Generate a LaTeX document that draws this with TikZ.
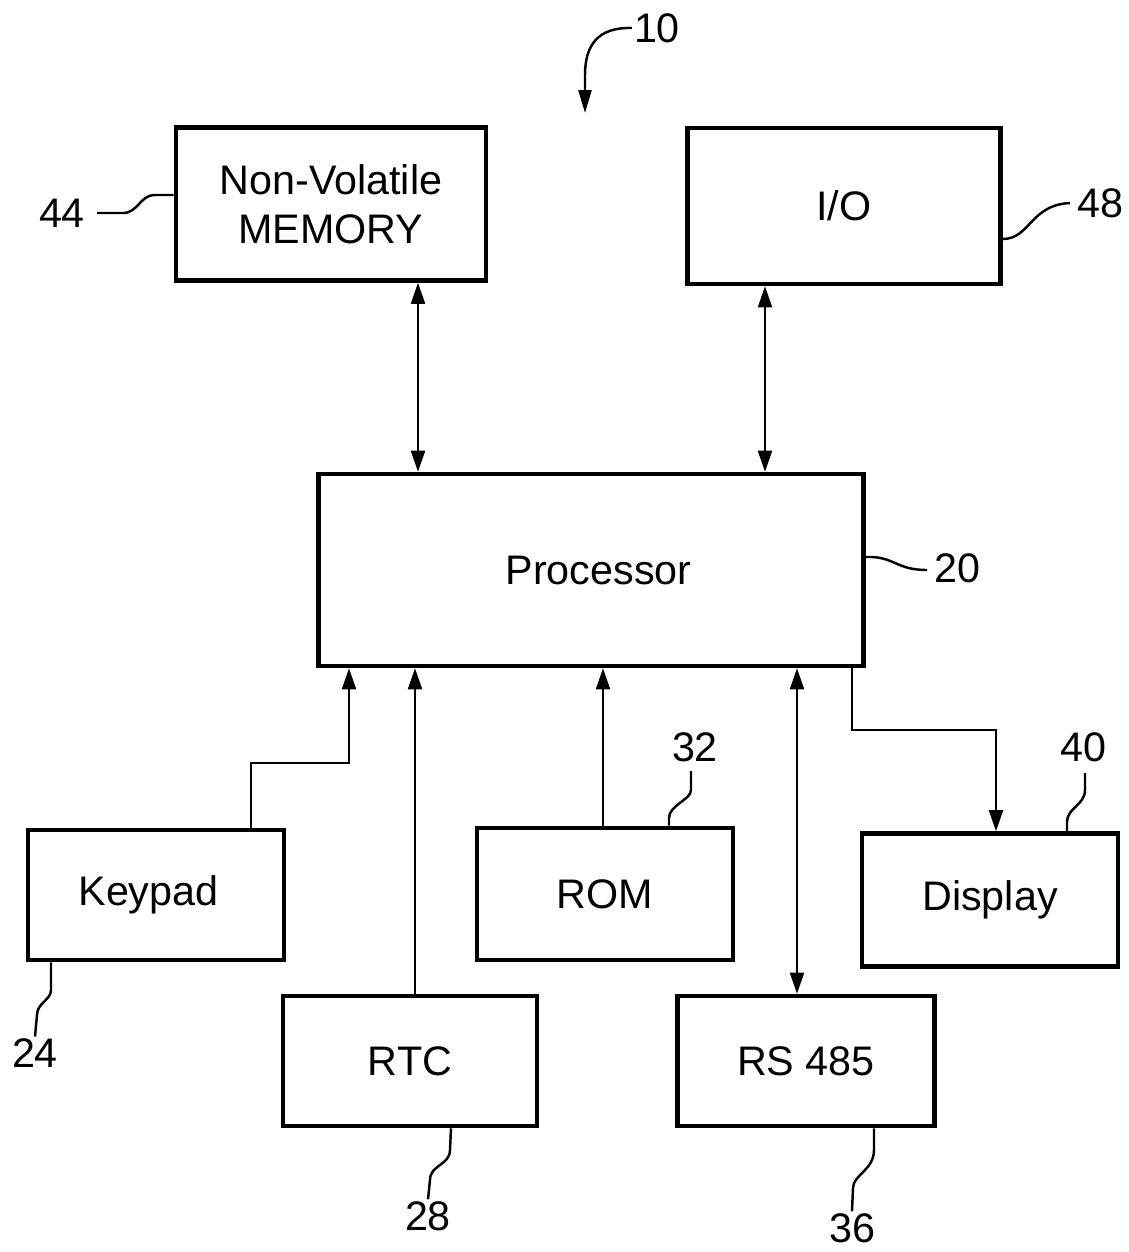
\documentclass[tikz,border=0pt]{standalone}
\usepackage{fontspec}
\setmainfont{Liberation Sans}
\usetikzlibrary{arrows.meta}

\tikzset{
  box/.style={draw,line width=2.6pt,inner sep=0pt,align=center,font=\fontsize{23.5}{28}\selectfont},
  link/.style={line width=1.2pt},
  one/.style={link,-{Triangle[length=0.42cm,width=0.28cm]}},
  both/.style={link,{Triangle[length=0.42cm,width=0.28cm]}-{Triangle[length=0.42cm,width=0.28cm]}},
  lead/.style={line width=1.4pt},
  num/.style={inner sep=1pt,font=\fontsize{23.5}{28}\selectfont}
}

\begin{document}
\begin{tikzpicture}[x=0.02cm,y=-0.02cm]
\path[use as bounding box] (0,0) rectangle (1129,1252);

% blocks
\node[box,minimum width=6.2cm,minimum height=3.06cm] (mem) at (331,204) {Non-Volatile\\MEMORY};
\node[box,minimum width=6.26cm,minimum height=3.12cm] (io) at (844,206) {I/O};
\node[box,minimum width=10.9cm,minimum height=3.84cm] (proc) at (591,570) {\raisebox{-0.1cm}{\hspace{0.3cm}Processor}};
\node[box,minimum width=5.12cm,minimum height=2.6cm] (kpd) at (156,895) {\hspace{-0.3cm}Keypad};
\node[box,minimum width=5.12cm,minimum height=2.64cm] (rom) at (605,894) {ROM};
\node[box,minimum width=5.12cm,minimum height=2.66cm] (disp) at (990,900) {Display};
\node[box,minimum width=5.08cm,minimum height=2.6cm] (rtc) at (410,1061) {RTC};
\node[box,minimum width=5.14cm,minimum height=2.6cm] (rs) at (806,1061) {RS 485};

% buses
\coordinate (mx) at (418,0);
\coordinate (ix) at (765,0);
\coordinate (tx) at (415,0);
\coordinate (ox) at (603,0);
\coordinate (sx) at (797,0);
\coordinate (k1) at (251,763);
\coordinate (k2) at (349,763);
\coordinate (d1) at (852,730);
\coordinate (d2) at (996,730);

\draw[both] (mem.south -| mx) -- (proc.north -| mx);
\draw[both] (io.south -| ix) -- (proc.north -| ix);
\draw[one] (kpd.north -| k1) -- (k1) -- (k2) -- (proc.south -| k2);
\draw[one] (rtc.north -| tx) -- (proc.south -| tx);
\draw[one] (rom.north -| ox) -- (proc.south -| ox);
\draw[both] (proc.south -| sx) -- (rs.north -| sx);
\draw[one] (proc.south -| d1) -- (d1) -- (d2) -- (disp.north -| d2);

% reference numerals
\node[num] (n10) at (657,28) {10};
\node[num] (n44) at (62,213) {44};
\node[num] (n48) at (1100,203) {48};
\node[num] (n20) at (957,568) {20};
\node[num] (n32) at (695,747) {32};
\node[num] (n40) at (1083,747) {40};
\node[num] (n24) at (35,1053) {24};
\node[num] (n28) at (428,1216) {28};
\node[num] (n36) at (852,1228) {36};

\draw[lead,-{Triangle[length=0.46cm,width=0.26cm]}] (n10.west) .. controls (598,27) and (585,45) .. (585,75) -- (585,113);
\draw[lead] ([xshift=0.2cm]n44.east) -- (123,213) .. controls (138,213) and (140,195) .. (155,195) -- (mem.west |- 0,195);
\draw[lead] (io.east |- 0,239) .. controls (1030,239) and (1030,205) .. (1070,203);
\draw[lead] (proc.east |- 0,557) .. controls (895,556) and (895,570) .. (927,570);
\draw[lead] (691,771) -- (691,790) .. controls (691,800) and (669,805) .. (669,818) -- (rom.north -| 669,0);
\draw[lead] (1085,773) -- (1085,790) .. controls (1085,805) and (1067,808) .. (1067,822) -- (disp.north -| 1067,0);
\draw[lead] (kpd.south -| 51,0) -- (51,990) .. controls (51,1000) and (37,1003) .. (37,1015) -- (n24.north);
\draw[lead] (rtc.south -| 451,0) -- (450,1150) .. controls (450,1165) and (430,1165) .. (430,1180) -- (n28.north);
\draw[lead] (rs.south -| 874,0) -- (874,1150) .. controls (874,1170) and (853,1175) .. (853,1188) -- (n36.north);

\end{tikzpicture}
\end{document}
